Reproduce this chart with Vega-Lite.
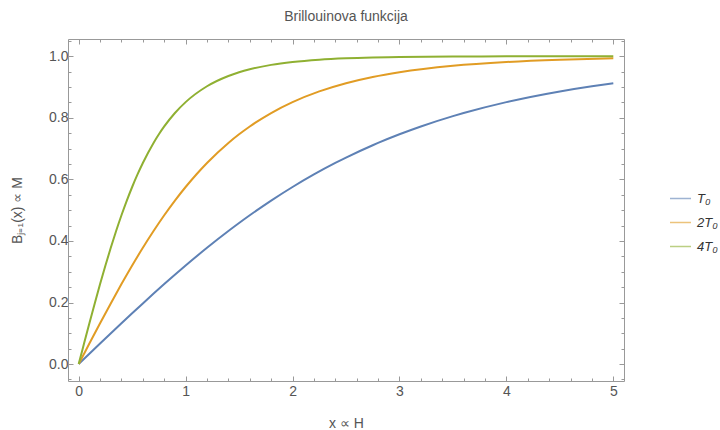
{
  "$schema": "https://vega.github.io/schema/vega-lite/v6.json",
  "width": 556,
  "height": 342,
  "autosize": {"type": "none"},
  "padding": {"left": 68, "top": 39, "right": 96, "bottom": 49},
  "title": {"text": "Brillouinova funkcija", "fontSize": 14, "fontWeight": "normal", "color": "#555555", "anchor": "middle", "offset": 10, "font": "Liberation Sans"},
  "config": {
    "view": {"stroke": null},
    "font": "Liberation Sans",
    "axis": {"grid": false, "domainColor": "#999999", "tickColor": "#999999", "labelColor": "#555555", "titleColor": "#555555", "labelFontSize": 14, "titleFontSize": 14, "titleFontWeight": "normal", "labelFont": "Liberation Sans", "titleFont": "Liberation Sans"}
  },
  "data": {"values": [
    {"s": "T₀", "x": 0, "y": 0},
    {"s": "T₀", "x": 0.2, "y": 0.066556},
    {"s": "T₀", "x": 0.4, "y": 0.132452},
    {"s": "T₀", "x": 0.5, "y": 0.164954},
    {"s": "T₀", "x": 0.6, "y": 0.197057},
    {"s": "T₀", "x": 0.8, "y": 0.259793},
    {"s": "T₀", "x": 1.0, "y": 0.320156},
    {"s": "T₀", "x": 1.2, "y": 0.377732},
    {"s": "T₀", "x": 1.4, "y": 0.4322},
    {"s": "T₀", "x": 1.5, "y": 0.458196},
    {"s": "T₀", "x": 1.6, "y": 0.48334},
    {"s": "T₀", "x": 1.8, "y": 0.531024},
    {"s": "T₀", "x": 2.0, "y": 0.57521},
    {"s": "T₀", "x": 2.2, "y": 0.615926},
    {"s": "T₀", "x": 2.4, "y": 0.653261},
    {"s": "T₀", "x": 2.5, "y": 0.670701},
    {"s": "T₀", "x": 2.75, "y": 0.710887},
    {"s": "T₀", "x": 2.8, "y": 0.718361},
    {"s": "T₀", "x": 3.0, "y": 0.746484},
    {"s": "T₀", "x": 3.2, "y": 0.771924},
    {"s": "T₀", "x": 3.5, "y": 0.805504},
    {"s": "T₀", "x": 3.6, "y": 0.815577},
    {"s": "T₀", "x": 4.0, "y": 0.850937},
    {"s": "T₀", "x": 4.5, "y": 0.8857},
    {"s": "T₀", "x": 4.8, "y": 0.902472},
    {"s": "T₀", "x": 5.0, "y": 0.912235},
    {"s": "2T₀", "x": 0, "y": 0},
    {"s": "2T₀", "x": 0.05, "y": 0.033319},
    {"s": "2T₀", "x": 0.1, "y": 0.066556},
    {"s": "2T₀", "x": 0.2, "y": 0.132452},
    {"s": "2T₀", "x": 0.3, "y": 0.197057},
    {"s": "2T₀", "x": 0.4, "y": 0.259793},
    {"s": "2T₀", "x": 0.5, "y": 0.320156},
    {"s": "2T₀", "x": 0.6, "y": 0.377732},
    {"s": "2T₀", "x": 0.7, "y": 0.4322},
    {"s": "2T₀", "x": 0.8, "y": 0.48334},
    {"s": "2T₀", "x": 0.9, "y": 0.531024},
    {"s": "2T₀", "x": 1.0, "y": 0.57521},
    {"s": "2T₀", "x": 1.1, "y": 0.615926},
    {"s": "2T₀", "x": 1.2, "y": 0.653261},
    {"s": "2T₀", "x": 1.4, "y": 0.718361},
    {"s": "2T₀", "x": 1.5, "y": 0.746484},
    {"s": "2T₀", "x": 1.6, "y": 0.771924},
    {"s": "2T₀", "x": 1.8, "y": 0.815577},
    {"s": "2T₀", "x": 2.0, "y": 0.850937},
    {"s": "2T₀", "x": 2.25, "y": 0.8857},
    {"s": "2T₀", "x": 2.5, "y": 0.912235},
    {"s": "2T₀", "x": 2.75, "y": 0.93249},
    {"s": "2T₀", "x": 3.0, "y": 0.947974},
    {"s": "2T₀", "x": 3.5, "y": 0.968945},
    {"s": "2T₀", "x": 4.0, "y": 0.981361},
    {"s": "2T₀", "x": 4.5, "y": 0.98877},
    {"s": "2T₀", "x": 5.0, "y": 0.993217},
    {"s": "4T₀", "x": 0, "y": 0},
    {"s": "4T₀", "x": 0.025, "y": 0.033319},
    {"s": "4T₀", "x": 0.05, "y": 0.066556},
    {"s": "4T₀", "x": 0.1, "y": 0.132452},
    {"s": "4T₀", "x": 0.15, "y": 0.197057},
    {"s": "4T₀", "x": 0.2, "y": 0.259793},
    {"s": "4T₀", "x": 0.25, "y": 0.320156},
    {"s": "4T₀", "x": 0.3, "y": 0.377732},
    {"s": "4T₀", "x": 0.35, "y": 0.4322},
    {"s": "4T₀", "x": 0.4, "y": 0.48334},
    {"s": "4T₀", "x": 0.45, "y": 0.531024},
    {"s": "4T₀", "x": 0.5, "y": 0.57521},
    {"s": "4T₀", "x": 0.55, "y": 0.615926},
    {"s": "4T₀", "x": 0.6, "y": 0.653261},
    {"s": "4T₀", "x": 0.7, "y": 0.718361},
    {"s": "4T₀", "x": 0.75, "y": 0.746484},
    {"s": "4T₀", "x": 0.8, "y": 0.771924},
    {"s": "4T₀", "x": 0.9, "y": 0.815577},
    {"s": "4T₀", "x": 1.0, "y": 0.850937},
    {"s": "4T₀", "x": 1.2, "y": 0.902472},
    {"s": "4T₀", "x": 1.4, "y": 0.935928},
    {"s": "4T₀", "x": 1.5, "y": 0.947974},
    {"s": "4T₀", "x": 1.6, "y": 0.957709},
    {"s": "4T₀", "x": 1.8, "y": 0.97197},
    {"s": "4T₀", "x": 2.0, "y": 0.981361},
    {"s": "4T₀", "x": 2.25, "y": 0.98877},
    {"s": "4T₀", "x": 2.5, "y": 0.993217},
    {"s": "4T₀", "x": 2.75, "y": 0.995896},
    {"s": "4T₀", "x": 3.0, "y": 0.997515},
    {"s": "4T₀", "x": 3.5, "y": 0.999087},
    {"s": "4T₀", "x": 4.0, "y": 0.999665},
    {"s": "4T₀", "x": 4.5, "y": 0.999877},
    {"s": "4T₀", "x": 5.0, "y": 0.999955}
  ]},
  "layer": [
    {
      "mark": {"type": "line", "interpolate": "monotone", "strokeWidth": 2, "clip": true},
      "encoding": {
        "x": {"field": "x", "type": "quantitative", "title": "x ∝ H",
          "scale": {"domain": [-0.1, 5.1], "nice": false, "zero": false},
          "axis": {"orient": "bottom", "values": [0,0.2,0.4,0.6,0.8,1,1.2,1.4,1.6,1.8,2,2.2,2.4,2.6,2.8,3,3.2,3.4,3.6,3.8,4,4.2,4.4,4.6,4.8,5],
            "labelExpr": "datum.value % 1 == 0 ? format(datum.value, 'd') : ''",
            "tickSize": {"condition": {"test": "datum.value % 1 == 0", "value": -5}, "value": -3},
            "labelPadding": 8, "titlePadding": 16, "labelFlush": false, "labelOverlap": false}},
        "y": {"field": "y", "type": "quantitative", "title": "Bⱼ₌₁(x) ∝ M",
          "scale": {"domain": [-0.055, 1.056], "nice": false, "zero": false},
          "axis": {"orient": "left", "values": [-0.05,0,0.05,0.1,0.15,0.2,0.25,0.3,0.35,0.4,0.45,0.5,0.55,0.6,0.65,0.7,0.75,0.8,0.85,0.9,0.95,1,1.05],
            "labelExpr": "abs(datum.value*5 - round(datum.value*5)) < 0.001 ? format(datum.value, '.1f') : ''",
            "tickSize": {"condition": {"test": "abs(datum.value*5 - round(datum.value*5)) < 0.001", "value": -5}, "value": -3},
            "labelPadding": 5, "titlePadding": 24, "labelFlush": false, "labelOverlap": false}},
        "color": {"field": "s", "type": "nominal", "sort": ["T₀", "2T₀", "4T₀"],
          "scale": {"domain": ["T₀", "2T₀", "4T₀"], "range": ["#5E81B5", "#E19C24", "#8FB032"]},
          "legend": {"title": null, "orient": "none", "legendX": 601, "legendY": 148, "symbolType": "stroke", "symbolSize": 441, "symbolStrokeWidth": 1.5, "symbolOpacity": 0.6, "labelFontSize": 13, "labelFontStyle": "italic", "labelColor": "#333333", "labelOffset": 5, "rowPadding": 5, "labelFont": "Liberation Sans"}}
      }
    },
    {
      "mark": {"type": "point", "opacity": 0},
      "encoding": {
        "x": {"field": "x", "type": "quantitative",
          "scale": {"domain": [-0.1, 5.1], "nice": false, "zero": false},
          "axis": {"orient": "top", "title": null, "labels": false, "values": [0,0.2,0.4,0.6,0.8,1,1.2,1.4,1.6,1.8,2,2.2,2.4,2.6,2.8,3,3.2,3.4,3.6,3.8,4,4.2,4.4,4.6,4.8,5],
            "tickSize": {"condition": {"test": "datum.value % 1 == 0", "value": -5}, "value": -3}}},
        "y": {"field": "y", "type": "quantitative",
          "scale": {"domain": [-0.055, 1.056], "nice": false, "zero": false},
          "axis": {"orient": "right", "title": null, "labels": false, "values": [-0.05,0,0.05,0.1,0.15,0.2,0.25,0.3,0.35,0.4,0.45,0.5,0.55,0.6,0.65,0.7,0.75,0.8,0.85,0.9,0.95,1,1.05],
            "tickSize": {"condition": {"test": "abs(datum.value*5 - round(datum.value*5)) < 0.001", "value": -5}, "value": -3}}}
      }
    }
  ],
  "resolve": {"axis": {"x": "independent", "y": "independent"}}
}
